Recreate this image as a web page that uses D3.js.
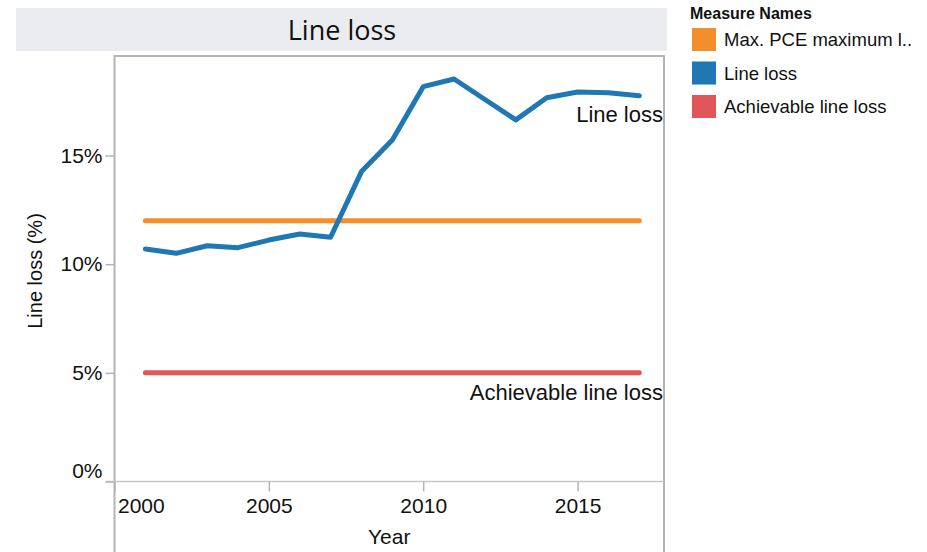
<!DOCTYPE html>
<html>
<head>
<meta charset="utf-8">
<script src="https://cdn.jsdelivr.net/npm/d3@7"></script>
<style>
  body { margin: 0; background: #ffffff; }
  svg { display: block; }
</style>
</head>
<body>
<svg id="chart" width="927" height="552"></svg>
<script>
// Values
const years = [2001, 2002, 2003, 2004, 2005, 2006, 2007, 2008, 2009,
  2010, 2011, 2012, 2013, 2014, 2015, 2016, 2017];
const lineLoss = [10.70, 10.50, 10.85, 10.76, 11.11, 11.39, 11.24, 14.26, 15.72,
  18.17, 18.52, 17.58, 16.64, 17.66, 17.92, 17.89, 17.75];
const maxPce = years.map(() => 12.0);
const achievable = years.map(() => 5.0);

const seriesNames = ['Max. PCE maximum l..', 'Line loss', 'Achievable line loss'];
const seriesColors = ['#f28e2b', '#1f77b4', '#e15759'];
const xTicks = [2000, 2005, 2010, 2015];
const yTicks = [0, 5, 10, 15];

const FONT = 'Arial, "Liberation Sans", sans-serif';
const FRAME = '#b4b4b4';

const PLOT = { left: 114.5, right: 664, top: 56, bottom: 481.5 };

const root = d3.select('#chart');

const x = d3.scaleLinear()
  .domain([2000, 2017.8])
  .range([PLOT.left, PLOT.right]);

const y = d3.scaleLinear()
  .domain([0, 19.58])
  .range([PLOT.bottom, PLOT.top]);

// title band
root.append('rect')
  .attr('x', 16)
  .attr('y', 8)
  .attr('width', 651)
  .attr('height', 43)
  .attr('fill', '#ebecf0');

root.append('text')
  .attr('x', 342)
  .attr('y', 40)
  .attr('text-anchor', 'middle')
  .attr('fill', '#111111')
  .attr('font-size', 27)
  .attr('font-family', '"Open Sans", "Noto Sans", sans-serif')
  .text('Line loss');

// plot frame: top, left, right; side lines run down through the x axis pane
root.append('line')
  .attr('x1', PLOT.left).attr('y1', PLOT.top)
  .attr('x2', PLOT.right).attr('y2', PLOT.top)
  .attr('stroke', FRAME).attr('stroke-width', 2);

[PLOT.left, PLOT.right].forEach((lx) => {
  root.append('line')
    .attr('x1', lx).attr('y1', PLOT.top - 1)
    .attr('x2', lx).attr('y2', 552)
    .attr('stroke', FRAME).attr('stroke-width', 2);
});

// zero line
root.append('line')
  .attr('x1', PLOT.left - 9).attr('y1', y(0))
  .attr('x2', PLOT.right).attr('y2', y(0))
  .attr('stroke', '#c8c8c8').attr('stroke-width', 1.5);

// y axis
const yAxis = root.append('g')
  .attr('transform', `translate(${PLOT.left}, 0)`)
  .call(d3.axisLeft(y).tickValues(yTicks).tickSize(9).tickPadding(3)
    .tickFormat((d) => `${d}%`));

yAxis.select('.domain').remove();
yAxis.selectAll('.tick line').attr('stroke', FRAME).attr('stroke-width', 1.5);
yAxis.selectAll('.tick text')
  .attr('fill', '#111111')
  .attr('font-size', 21)
  .attr('font-family', FONT);
yAxis.selectAll('.tick').filter((d) => d === 0).select('text').attr('dy', '-0.2em');

// x axis
const xAxis = root.append('g')
  .attr('transform', `translate(0, ${PLOT.bottom})`)
  .call(d3.axisBottom(x).tickValues(xTicks).tickSize(10).tickPadding(7)
    .tickFormat(d3.format('d')));

xAxis.select('.domain').remove();
xAxis.selectAll('.tick line').attr('stroke', FRAME).attr('stroke-width', 1.5);
xAxis.selectAll('.tick text')
  .attr('fill', '#111111')
  .attr('font-size', 21)
  .attr('font-family', FONT);
xAxis.selectAll('.tick').filter((d) => d === 2000).select('text')
  .attr('text-anchor', 'start')
  .attr('x', 3);

root.append('text')
  .attr('x', (PLOT.left + PLOT.right) / 2)
  .attr('y', 544)
  .attr('text-anchor', 'middle')
  .attr('fill', '#111111')
  .attr('font-size', 21)
  .attr('font-family', FONT)
  .text('Year');

root.append('text')
  .attr('transform', `translate(42, 271) rotate(-90)`)
  .attr('text-anchor', 'middle')
  .attr('fill', '#111111')
  .attr('font-size', 20)
  .attr('font-family', FONT)
  .text('Line loss (%)');

// lines
const line = d3.line()
  .x((d) => x(d[0]))
  .y((d) => y(d[1]));

const seriesValues = [maxPce, lineLoss, achievable];

seriesValues.forEach((vals, i) => {
  root.append('path')
    .datum(years.map((yr, k) => [yr, vals[k]]))
    .attr('d', line)
    .attr('fill', 'none')
    .attr('stroke', seriesColors[i])
    .attr('stroke-width', 5)
    .attr('stroke-linecap', 'round')
    .attr('stroke-linejoin', 'round');
});

// line end labels
root.append('text')
  .attr('x', 663)
  .attr('y', 122)
  .attr('text-anchor', 'end')
  .attr('fill', '#111111')
  .attr('font-size', 22)
  .attr('font-family', FONT)
  .text('Line loss');

root.append('text')
  .attr('x', 663)
  .attr('y', 400)
  .attr('text-anchor', 'end')
  .attr('fill', '#111111')
  .attr('font-size', 22)
  .attr('font-family', FONT)
  .text('Achievable line loss');

// legend
const legend = root.append('g');

legend.append('text')
  .attr('x', 690)
  .attr('y', 19)
  .attr('fill', '#111111')
  .attr('font-size', 16)
  .attr('font-weight', 700)
  .attr('font-family', FONT)
  .text('Measure Names');

seriesNames.forEach((name, i) => {
  const top = 28 + i * 33.5;
  legend.append('rect')
    .attr('x', 692)
    .attr('y', top)
    .attr('width', 24)
    .attr('height', 23)
    .attr('fill', seriesColors[i]);
  legend.append('text')
    .attr('x', 724)
    .attr('y', top + 18)
    .attr('fill', '#111111')
    .attr('font-size', 18.5)
    .attr('font-family', FONT)
    .text(name);
});
</script>
</body>
</html>
